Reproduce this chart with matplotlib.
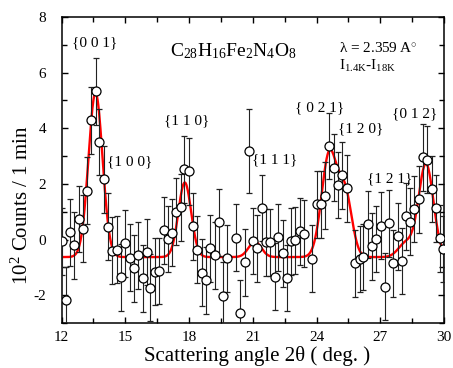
import numpy as np
import matplotlib
matplotlib.use('Agg')
import matplotlib.pyplot as plt
from matplotlib.ticker import MultipleLocator

plt.rcParams['font.family'] = ['Liberation Serif', 'DejaVu Serif']
plt.rcParams['mathtext.fontset'] = 'custom'
plt.rcParams['mathtext.rm'] = 'Liberation Serif'
plt.rcParams['mathtext.it'] = 'Liberation Serif:italic'
plt.rcParams['axes.unicode_minus'] = False

# measured points (2theta, counts x 1e2)
two_theta = [12.03, 12.22, 12.42, 12.60, 12.80, 13.02, 13.22, 13.41, 13.60, 13.78,
             13.99, 14.18, 14.38, 14.61, 14.82, 15.00, 15.21, 15.39, 15.60, 15.82,
             16.02, 16.18, 16.38, 16.60, 16.80, 16.99, 17.21, 17.40, 17.62, 17.78,
             17.99, 18.18, 18.37, 18.59, 18.80, 19.01, 19.20, 19.41, 19.59, 19.80,
             20.21, 20.40, 20.62, 20.81, 21.02, 21.21, 21.42, 21.61, 21.80, 22.03,
             22.21, 22.41, 22.60, 22.79, 23.01, 23.20, 23.40, 23.81, 24.00, 24.20,
             24.40, 24.60, 24.80, 25.01, 25.22, 25.45, 25.82, 26.03, 26.21, 26.40,
             26.62, 26.80, 27.02, 27.20, 27.41, 27.62, 27.84, 28.03, 28.21, 28.42,
             28.61, 28.84, 29.00, 29.21, 29.43, 29.64, 29.83, 29.97]
counts = [-0.06, -2.17, 0.26, -0.21, 0.74, 0.39, 1.76, 4.29, 5.33, 3.51,
          2.17, 0.46, -0.40, -0.36, -1.36, -0.14, -0.65, -1.04, -0.57, -1.40,
          -0.45, -1.73, -1.15, -1.13, 0.33, 0.02, 0.24, 1.00, 1.16, 2.53,
          2.45, 0.48, -0.36, -1.19, -1.47, -0.32, -0.57, 0.62, -2.02, -0.68,
          0.07, -2.65, -0.82, 3.19, -0.05, -0.32, 1.13, -0.10, -0.10, -1.33,
          0.08, -0.50, -1.38, -0.06, -0.03, 0.30, 0.21, -0.69, 1.27, 1.27,
          1.58, 3.36, 2.58, 1.96, 2.31, 1.84, -0.85, -0.70, -0.63, 0.55,
          -0.25, 0.02, 0.50, -1.70, 0.58, -0.85, 0.12, -0.77, 0.84, 0.64,
          1.10, 1.45, 2.95, 2.87, 1.82, 1.12, 0.05, -0.34]
errors = [1.2] * 43 + [1.5] + [1.2] * 44

# gaussian fit
baseline = -0.63
peak_pos = [13.60, 17.80, 21.10, 24.60, 25.35, 28.20, 29.15]
peak_amp = [5.90, 2.68, 0.55, 3.70, 2.20, 0.50, 3.35]
peak_sig = [0.33, 0.30, 0.30, 0.36, 0.32, 0.35, 0.35]

labels = ['{0 0 1}', '{1 0 0}', '{1 1 0}', '{1 1 1}', '{ 0 2 1}', '{1 2 0}', '{1 2 1}', '{0 1 2}']
label_x = [13.58, 15.20, 17.90, 22.05, 24.15, 26.10, 27.42, 28.60]
label_y = [7.07, 2.80, 4.25, 2.86, 4.74, 3.99, 2.20, 4.52]

fig = plt.figure(figsize=(4.53, 3.68), dpi=100)
ax = fig.add_axes([0.1358, 0.1223, 0.8444, 0.8315])

xf = np.linspace(12, 30, 1200)
fit = np.full_like(xf, baseline)
for p, a, s in zip(peak_pos, peak_amp, peak_sig):
    fit += a * np.exp(-(xf - p) ** 2 / (2 * s ** 2))
ax.plot(xf, fit, color='red', lw=1.7, zorder=2)

ax.errorbar(two_theta, counts, yerr=errors, fmt='o', ms=6.5, mfc='white', mec='black',
            mew=0.9, ecolor='#222222', elinewidth=0.8, capsize=2.3, capthick=0.8, zorder=3)

for t, lx, ly in zip(labels, label_x, label_y):
    ax.text(lx, ly, t, ha='center', va='center', fontsize=11)

ax.text(17.1, 6.6, r'$\mathrm{C_{28}H_{16}Fe_{2}N_{4}O_{8}}$', fontsize=14, ha='left', va='baseline')
ax.text(25.05, 6.9, 'λ = 2.359 A$^{\\circ}$', fontsize=11, ha='left', va='center')
ax.text(25.05, 6.25, r'I$_{\mathrm{1.4K}}$-I$_{\mathrm{18K}}$', fontsize=11, ha='left', va='center')

ax.set_xlim(12, 30)
ax.set_ylim(-3, 8)
ax.xaxis.set_major_locator(MultipleLocator(3))
ax.xaxis.set_minor_locator(MultipleLocator(1.5))
ax.yaxis.set_major_locator(MultipleLocator(2))
ax.yaxis.set_minor_locator(MultipleLocator(1))
ax.tick_params(which='both', direction='in', top=True, right=True, width=1.0)
ax.tick_params(which='major', length=4.5)
ax.tick_params(which='minor', length=3.5)
ax.tick_params(axis='x', labelsize=11, pad=6)
ax.tick_params(axis='y', labelsize=11, pad=11)
for sp in ax.spines.values():
    sp.set_linewidth(1.1)

ax.set_xlabel('Scattering angle 2θ ( deg. )', fontsize=15)
ax.xaxis.set_label_coords(0.511, -0.075)
ax.set_ylabel('10$^{2}$ Counts / 1 min', fontsize=15)
ax.yaxis.set_label_coords(-0.075, 0.386)

fig.savefig('out.png', dpi=100)
